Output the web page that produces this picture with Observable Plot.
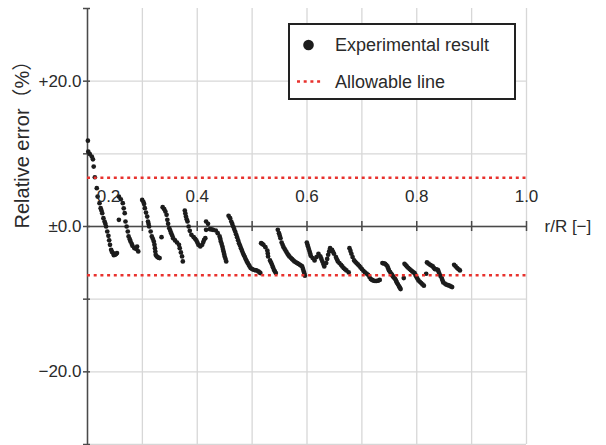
<!DOCTYPE html>
<html>
<head>
<meta charset="utf-8">
<script src="https://cdn.jsdelivr.net/npm/d3@7"></script>
<script src="https://cdn.jsdelivr.net/npm/@observablehq/plot@0.6"></script>
<style>
  html, body { margin: 0; padding: 0; background: #fff; }
  #wrap { position: relative; width: 606px; height: 445px; }
  #legend { position: absolute; left: 288px; top: 23px; }
</style>
</head>
<body>
<div id="wrap"><div id="chart"></div><div id="legend"></div></div>
<script>
// ---- axis definitions ----
const xDomain = [0.2, 1.0];
const yDomain = [-30, 30];
const xGrid = [0.2, 0.3, 0.4, 0.5, 0.6, 0.7, 0.8, 0.9, 1.0];
const yGrid = [-30, -20, -10, 0, 10, 20];
const yTicks = [-30, -20, -10, 0, 10, 20, 30];
const xLabelValues = [0.2, 0.4, 0.6, 0.8, 1.0];
const xLabelTexts = ["0.2", "0.4", "0.6", "0.8", "1.0"];
const yLabelValues = [20, 0, -20];
const yLabelTexts = ["+20.0", "\u00b10.0", "\u221220.0"];
const allowable = [6.7, -6.7];
const xTitle = "r/R [\u2212]";
const yTitle = "Relative error\uff08%\uff09";
const legendLabels = ["Experimental result", "Allowable line"];

// ---- experimental result: sweeps of [r/R, relative error %] ----
const sweepA = [[0.2007,11.81],[0.2014,10.30],[0.2042,9.98],[0.2078,9.62],[0.2099,9.25],[0.2113,8.24],[0.2134,6.78],[0.2169,5.27],[0.2184,4.12],[0.2219,3.21],[0.2240,2.52],[0.2254,2.20],[0.2268,1.83],[0.2290,1.14],[0.2311,0.69],[0.2325,0.37],[0.2339,0.00],[0.2360,-0.69],[0.2381,-1.28],[0.2395,-1.90],[0.2410,-2.52],[0.2431,-3.21],[0.2446,-3.50],[0.2466,-3.66],[0.2480,-3.95],[0.2501,-3.89],[0.2520,-3.80],[0.2537,-3.66]];
const sweepB = [[0.2572,4.12],[0.2607,3.75],[0.2643,3.21],[0.2660,2.50],[0.2678,1.83],[0.2572,0.92],[0.2692,0.69],[0.2713,0.00],[0.2734,-0.69],[0.2749,-1.37],[0.2770,-1.75],[0.2784,-2.06],[0.2805,-2.38],[0.2819,-2.66],[0.2855,-2.98],[0.2890,-3.11],[0.2904,-2.75],[0.2925,-3.43]];
const sweepC = [[0.2996,3.66],[0.3017,3.39],[0.3031,3.11],[0.3045,2.52],[0.3066,1.92],[0.3088,1.37],[0.3102,0.69],[0.3113,0.35],[0.3123,0.00],[0.3151,-0.69],[0.3172,-1.37],[0.3190,-1.70],[0.3208,-2.06],[0.3220,-2.50],[0.3229,-2.98],[0.3236,-3.45],[0.3243,-3.89],[0.3260,-4.10],[0.3278,-4.21],[0.3296,-4.30],[0.3314,-4.35],[0.3349,-1.47]];
const sweepD = [[0.3370,2.66],[0.3398,2.38],[0.3419,2.06],[0.3441,1.60],[0.3455,0.92],[0.3469,0.37],[0.3490,-0.23],[0.3508,-0.58],[0.3525,-0.92],[0.3543,-1.25],[0.3561,-1.60],[0.3596,-1.92],[0.3631,-2.20],[0.3667,-2.52],[0.3681,-2.98],[0.3702,-3.57],[0.3723,-4.12],[0.3737,-4.81]];
const sweepE = [[0.3773,2.20],[0.3783,1.80],[0.3794,1.37],[0.3808,1.00],[0.3822,0.69],[0.3843,0.00],[0.3864,-0.60],[0.3893,-1.14],[0.3935,-1.47],[0.3960,-1.70],[0.3984,-1.92],[0.4002,-2.20],[0.4020,-2.52],[0.4055,-2.75],[0.4090,-2.52],[0.4110,-2.15],[0.4126,-1.83],[0.4147,-1.60]];
const sweepF = [[0.4161,0.69],[0.4196,0.37],[0.4161,-0.46],[0.4232,-0.37],[0.4260,-0.40],[0.4288,-0.46],[0.4338,-0.55],[0.4373,-0.92],[0.4408,-1.37],[0.4420,-1.70],[0.4429,-2.06],[0.4445,-2.40],[0.4458,-2.75],[0.4468,-3.10],[0.4479,-3.43],[0.4490,-3.78],[0.4500,-4.12],[0.4514,-4.45],[0.4528,-4.81]];
const sweepG = [[0.4571,1.47],[0.4599,1.14],[0.4620,0.69],[0.4638,0.35],[0.4655,0.00],[0.4673,-0.35],[0.4691,-0.69],[0.4708,-1.08],[0.4726,-1.47],[0.4744,-1.88],[0.4761,-2.29],[0.4779,-2.63],[0.4797,-2.98],[0.4815,-3.32],[0.4832,-3.66],[0.4850,-3.94],[0.4867,-4.21],[0.4885,-4.51],[0.4903,-4.81],[0.4920,-5.04],[0.4938,-5.27],[0.4955,-5.50],[0.4973,-5.72],[0.5000,-5.85],[0.5023,-5.95],[0.5050,-6.00],[0.5079,-6.04],[0.5114,-6.18],[0.5135,-6.30],[0.5150,-6.41]];
const sweepH = [[0.5164,-2.29],[0.5185,-2.40],[0.5206,-2.52],[0.5242,-2.84],[0.5277,-3.30],[0.5285,-3.70],[0.5291,-4.12],[0.5326,-4.67],[0.5345,-4.97],[0.5362,-5.27],[0.5380,-5.60],[0.5397,-5.95],[0.5415,-6.18],[0.5432,-6.41]];
const sweepI = [[0.5468,-0.46],[0.5489,-0.92],[0.5503,-1.26],[0.5517,-1.60],[0.5538,-2.20],[0.5555,-2.52],[0.5573,-2.84],[0.5591,-3.07],[0.5609,-3.30],[0.5626,-3.52],[0.5644,-3.75],[0.5662,-3.94],[0.5679,-4.12],[0.5704,-4.30],[0.5729,-4.49],[0.5750,-4.65],[0.5771,-4.81],[0.5796,-4.93],[0.5821,-5.04],[0.5845,-5.15],[0.5870,-5.27],[0.5891,-5.38],[0.5912,-5.49],[0.5927,-5.84],[0.5941,-6.18],[0.5952,-6.48],[0.5962,-6.78]];
const sweepJ = [[0.5997,-2.20],[0.6008,-2.48],[0.6018,-2.75],[0.6032,-3.09],[0.6047,-3.43],[0.6058,-3.73],[0.6068,-4.03],[0.6103,-4.35],[0.6138,-4.67],[0.6174,-4.21],[0.6209,-3.75],[0.6244,-4.12],[0.6262,-4.46],[0.6280,-4.81],[0.6298,-5.15],[0.6315,-5.49],[0.6350,-5.04],[0.6368,-4.46],[0.6386,-3.89],[0.6404,-3.43],[0.6421,-2.98],[0.6456,-3.21],[0.6474,-3.48],[0.6492,-3.75],[0.6527,-4.21],[0.6545,-4.51],[0.6562,-4.81],[0.6590,-5.04],[0.6619,-5.27],[0.6643,-5.50],[0.6668,-5.72],[0.6693,-5.88],[0.6718,-6.04],[0.6760,-6.32]];
const sweepK = [[0.6774,-2.98],[0.6792,-3.36],[0.6809,-3.75],[0.6831,-4.21],[0.6859,-4.67],[0.6880,-4.85],[0.6901,-5.04],[0.6926,-5.22],[0.6951,-5.40],[0.6975,-5.63],[0.7000,-5.86],[0.7028,-6.09],[0.7056,-6.32],[0.7085,-6.48],[0.7113,-6.64],[0.7138,-6.95],[0.7162,-7.23],[0.7187,-7.35],[0.7212,-7.45],[0.7240,-7.50],[0.7268,-7.50],[0.7296,-7.45],[0.7325,-7.35]];
const sweepL = [[0.7374,-5.04],[0.7400,-5.08],[0.7424,-5.13],[0.7445,-5.30],[0.7466,-5.49],[0.7480,-5.77],[0.7494,-6.04],[0.7515,-6.27],[0.7537,-6.50],[0.7551,-6.69],[0.7565,-6.87],[0.7586,-7.05],[0.7607,-7.23],[0.7622,-7.46],[0.7636,-7.69],[0.7657,-7.96],[0.7678,-8.24],[0.7692,-8.42],[0.7706,-8.61],[0.7763,-7.10]];
const sweepM = [[0.7777,-5.13],[0.7798,-5.31],[0.7819,-5.49],[0.7844,-5.68],[0.7869,-5.86],[0.7894,-6.02],[0.7918,-6.18],[0.7940,-6.30],[0.7960,-6.41],[0.7975,-6.64],[0.7989,-6.87],[0.8010,-7.15],[0.8031,-7.42],[0.8056,-7.60],[0.8081,-7.78],[0.8105,-7.97],[0.8130,-8.15],[0.8172,-6.50]];
const sweepN = [[0.8186,-4.95],[0.8215,-5.11],[0.8243,-5.27],[0.8268,-5.38],[0.8292,-5.49],[0.8310,-5.68],[0.8328,-5.86],[0.8356,-5.90],[0.8384,-5.95],[0.8398,-6.22],[0.8412,-6.50],[0.8433,-6.80],[0.8455,-7.10],[0.8469,-7.40],[0.8483,-7.69],[0.8511,-7.85],[0.8540,-8.01],[0.8568,-8.08],[0.8596,-8.15],[0.8620,-8.24],[0.8645,-8.33]];
const sweepO = [[0.8681,-5.27],[0.8709,-5.50],[0.8737,-5.72],[0.8762,-5.88],[0.8787,-6.04]];

const sweeps = [sweepA, sweepB, sweepC, sweepD, sweepE, sweepF, sweepG, sweepH, sweepI, sweepJ, sweepK, sweepL, sweepM, sweepN, sweepO];
const points = sweeps.flat().map(([x, y]) => ({x, y}));

const FONT = '"Liberation Sans", Arial, Helvetica, "Noto Sans CJK JP", sans-serif';
const AXIS = "#4a4a4a";
const GRID = "#d7d7d7";
const RED = "#e8322e";
const TEXT = "#2a2a2a";

const yLabelRows = yLabelValues.map((v, i) => ({v, t: yLabelTexts[i]}));
const xLabelRows = xLabelValues.map((v, i) => ({v, t: xLabelTexts[i]}));

const chart = Plot.plot({
  width: 606,
  height: 445,
  marginLeft: 87,
  marginRight: 80,
  marginTop: 8,
  marginBottom: 1,
  style: {fontFamily: FONT, background: "#fff", overflow: "visible"},
  x: {domain: xDomain, axis: null},
  y: {domain: yDomain, axis: null},
  marks: [
    Plot.ruleX(xGrid, {stroke: GRID, strokeWidth: 1.3}),
    Plot.ruleY(yGrid, {stroke: GRID, strokeWidth: 1.3}),
    Plot.ruleY([0], {x1: xDomain[0], x2: xDomain[1], stroke: AXIS, strokeWidth: 1.5}),
    Plot.ruleX([xDomain[0]], {stroke: AXIS, strokeWidth: 1.5}),
    Plot.ruleX(xGrid.slice(1), {y1: 0, y2: 0, insetTop: -5, insetBottom: -5, stroke: AXIS, strokeWidth: 1.5}),
    Plot.ruleY(yTicks, {x1: xDomain[0], x2: xDomain[0], insetLeft: -4, insetRight: -3, stroke: AXIS, strokeWidth: 1.5}),
    Plot.dot(points, {x: "x", y: "y", r: 2.35, fill: "#1c1c1c", stroke: null}),
    Plot.ruleY(allowable, {stroke: RED, strokeWidth: 2.4, strokeDasharray: "3,3.7"}),
    Plot.text(yLabelRows, {x: () => xDomain[0], y: "v", text: "t", textAnchor: "end", dx: -6, fontSize: 17, fill: TEXT}),
    Plot.text(xLabelRows.slice(0, 1), {x: "v", y: () => 0, text: "t", dy: -30, dx: 21, fontSize: 17, fill: TEXT}),
    Plot.text(xLabelRows.slice(1), {x: "v", y: () => 0, text: "t", dy: -30, fontSize: 17, fill: TEXT}),
    Plot.text([xTitle], {x: () => xDomain[1], y: () => 0, text: d => d, textAnchor: "start", dx: 18, fontSize: 17, fill: TEXT}),
    Plot.text([yTitle], {frameAnchor: "left", text: d => d, rotate: -90, dx: -65, dy: 2, fontSize: 20, fill: TEXT})
  ]
});
document.getElementById("chart").appendChild(chart);

// ---- legend (HTML/SVG overlay above the plot) ----
const lg = d3.select("#legend").append("svg")
  .attr("width", 228).attr("height", 77)
  .style("font-family", FONT);
lg.append("rect").attr("x", 1).attr("y", 1).attr("width", 226).attr("height", 75)
  .attr("fill", "#fff").attr("stroke", "#222").attr("stroke-width", 2);
lg.append("circle").attr("cx", 20.5).attr("cy", 22).attr("r", 5.3).attr("fill", "#1c1c1c");
lg.append("line").attr("x1", 9).attr("x2", 33).attr("y1", 58.5).attr("y2", 58.5)
  .attr("stroke", RED).attr("stroke-width", 2.4).attr("stroke-dasharray", "3,3.7");
lg.selectAll("text.l").data(legendLabels).join("text")
  .attr("x", 47).attr("y", (d, i) => i === 0 ? 22 : 58.5)
  .attr("dy", "0.35em").attr("font-size", 18).attr("fill", TEXT).text(d => d);
</script>
</body>
</html>
